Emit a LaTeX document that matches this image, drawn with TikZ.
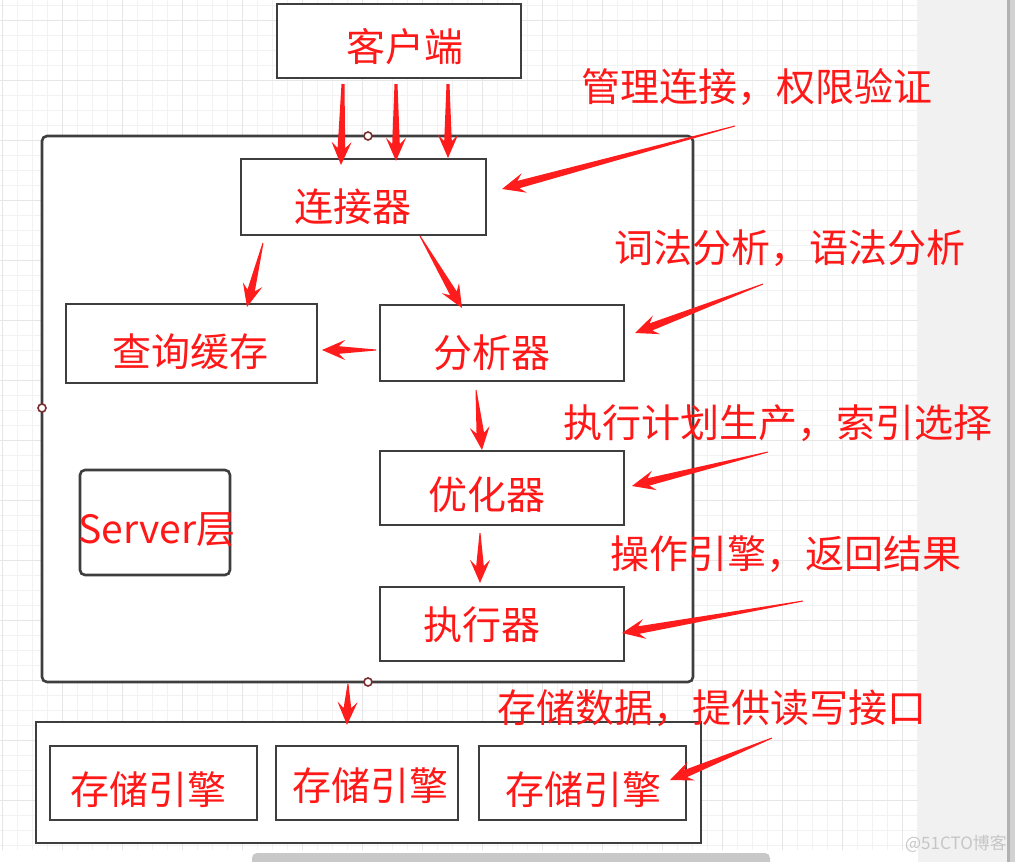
\documentclass[tikz,border=0pt]{standalone}
\usepackage{fontspec}
\setmainfont{Noto Sans CJK SC}
\usetikzlibrary{calc}

\definecolor{arrowred}{RGB}{255,28,28}
\definecolor{textred}{RGB}{255,24,24}
\definecolor{boxgray}{RGB}{62,62,62}
\definecolor{gridminor}{RGB}{242,242,242}
\definecolor{gridmajor}{RGB}{230,230,230}
\definecolor{stripgray}{RGB}{241,241,241}
\definecolor{scrollgray}{RGB}{200,200,200}
\definecolor{portred}{RGB}{120,45,45}

\tikzset{
  box/.style={draw=boxgray, line width=2.6pt, fill=white, inner sep=0pt},
  txt/.style={text=textred, font=\fontsize{39}{41}\selectfont, inner sep=0pt},
  port/.style={draw=portred, line width=1.6pt, fill=white},
}

% tapered red arrow: [tail half-width] {tail} {tip}
\newcommand\fatarrow[3][0.5]{%
  \path ($(#3)!17pt!(#2)$) coordinate (fa-j) ($(#3)!23pt!(#2)$) coordinate (fa-b);
  \fill[arrowred] ($(#2)!#1pt!-90:(#3)$) -- ($(fa-j)!3.8pt!90:(#2)$)
    -- ($(fa-b)!10pt!90:(#2)$) -- (#3) -- ($(fa-b)!10pt!-90:(#2)$)
    -- ($(fa-j)!3.8pt!-90:(#2)$) -- ($(#2)!#1pt!90:(#3)$) -- cycle;
}

\begin{document}
\begin{tikzpicture}[x=1pt, y=-1pt]
  \useasboundingbox (0,0) rectangle (1015,862);

  % canvas grid
  \foreach \gx in {2.7,17.7,...,918} \draw[gridminor, line width=1pt] (\gx,0) -- (\gx,850);
  \foreach \gy in {5,20,...,850} \draw[gridminor, line width=1pt] (0,\gy) -- (918,\gy);
  \foreach \gx in {2.7,62.7,...,918} \draw[gridmajor, line width=1pt] (\gx,0) -- (\gx,850);
  \foreach \gy in {20,80,...,850} \draw[gridmajor, line width=1pt] (0,\gy) -- (918,\gy);
  \fill[stripgray] (918,0) rectangle (1015,862);
  \fill[gray!60] (1007,0) rectangle (1010,862);
  \fill[gray!35] (1010,0) rectangle (1015,862);
  \begin{scope}
    \clip (0,0) rectangle (1015,862);
    \fill[scrollgray, rounded corners=5pt] (252,853) rectangle (770,872);
  \end{scope}

  % layers
  \node[box, rounded corners=5pt, minimum width=651pt, minimum height=546pt] (server) at (367.5,409) {};
  \node[box, minimum width=665pt, minimum height=121pt] (store) at (368.5,782.5) {};
  \node[box, rounded corners=5pt, minimum width=150pt, minimum height=105pt] (srv) at (155,522.5) {};

  \foreach \name/\x/\y/\w/\h in {
    client/399/41/244/74,
    conn/363.5/197/245/76,
    cache/191.5/343.5/251/79,
    parser/502/343/244/76,
    optim/502/488/244/74,
    exec/502/624/244/74,
    eng1/153.5/783/207/74,
    eng2/367/783/182/74,
    eng3/582.5/783/207/74
  }{
    \node[box, minimum width=\w pt, minimum height=\h pt] (\name) at (\x,\y) {};
  }

  \foreach \name/\x/\y/\lab in {
    client/405/47/{客户端},
    conn/353/207/{连接器},
    cache/190/352/{查询缓存},
    parser/492/353/{分析器},
    optim/487/495/{优化器},
    exec/482/625/{执行器},
    srv/157/530/{Server层},
    eng1/148/790/{存储引擎},
    eng2/370/786/{存储引擎},
    eng3/583/790/{存储引擎}
  }{
    \node[txt] (\name-t) at (\x,\y) {\lab};
  }

  % notes
  \node[txt] (n1) at (757,87) {管理连接，权限验证};
  \node[txt] (n2) at (790,248) {词法分析，语法分析};
  \node[txt] (n3) at (778,423) {执行计划生产，索引选择};
  \node[txt] (n4) at (786,554) {操作引擎，返回结果};
  \node[txt] (n5) at (712,708) {存储数据，提供读写接口};

  % ports
  \foreach \px/\py in {368/136, 42/408, 368/682}
    \draw[port] (\px,\py) circle[radius=4];

  % arrow ends
  \foreach \name/\x/\y in {
    c1a/343/84,  c1b/341/165,
    c2a/396/84,  c2b/396/161,
    c3a/448/84,  c3b/448/158,
    k1a/263/243, k1b/247/307,
    k2a/420/236, k2b/462/308,
    p1a/376/350, p1b/322/350,
    p2a/476/390, p2b/482/450,
    o1a/480/533, o1b/480/583,
    s1a/348/684, s1b/347/725,
    n1a/735/126, n1b/502/189,
    n2a/763/284, n2b/635/333,
    n3a/768/452, n3b/632/486,
    n4a/803/601, n4b/622/633,
    n5a/772/738, n5b/670/780
  }{
    \coordinate (\name) at (\x,\y);
  }

  \foreach \a/\b in {c1a/c1b, c2a/c2b, c3a/c3b}
    \fatarrow[1.5]{\a}{\b};
  \foreach \a/\b in {k1a/k1b, k2a/k2b, p1a/p1b, p2a/p2b, o1a/o1b, s1a/s1b,
                     n1a/n1b, n2a/n2b, n3a/n3b, n4a/n4b, n5a/n5b}
    \fatarrow{\a}{\b};

  \node[text=gray!45, font=\fontsize{17}{17}\selectfont, inner sep=0pt] (wmark) at (956,844) {@51CTO博客};
\end{tikzpicture}
\end{document}
